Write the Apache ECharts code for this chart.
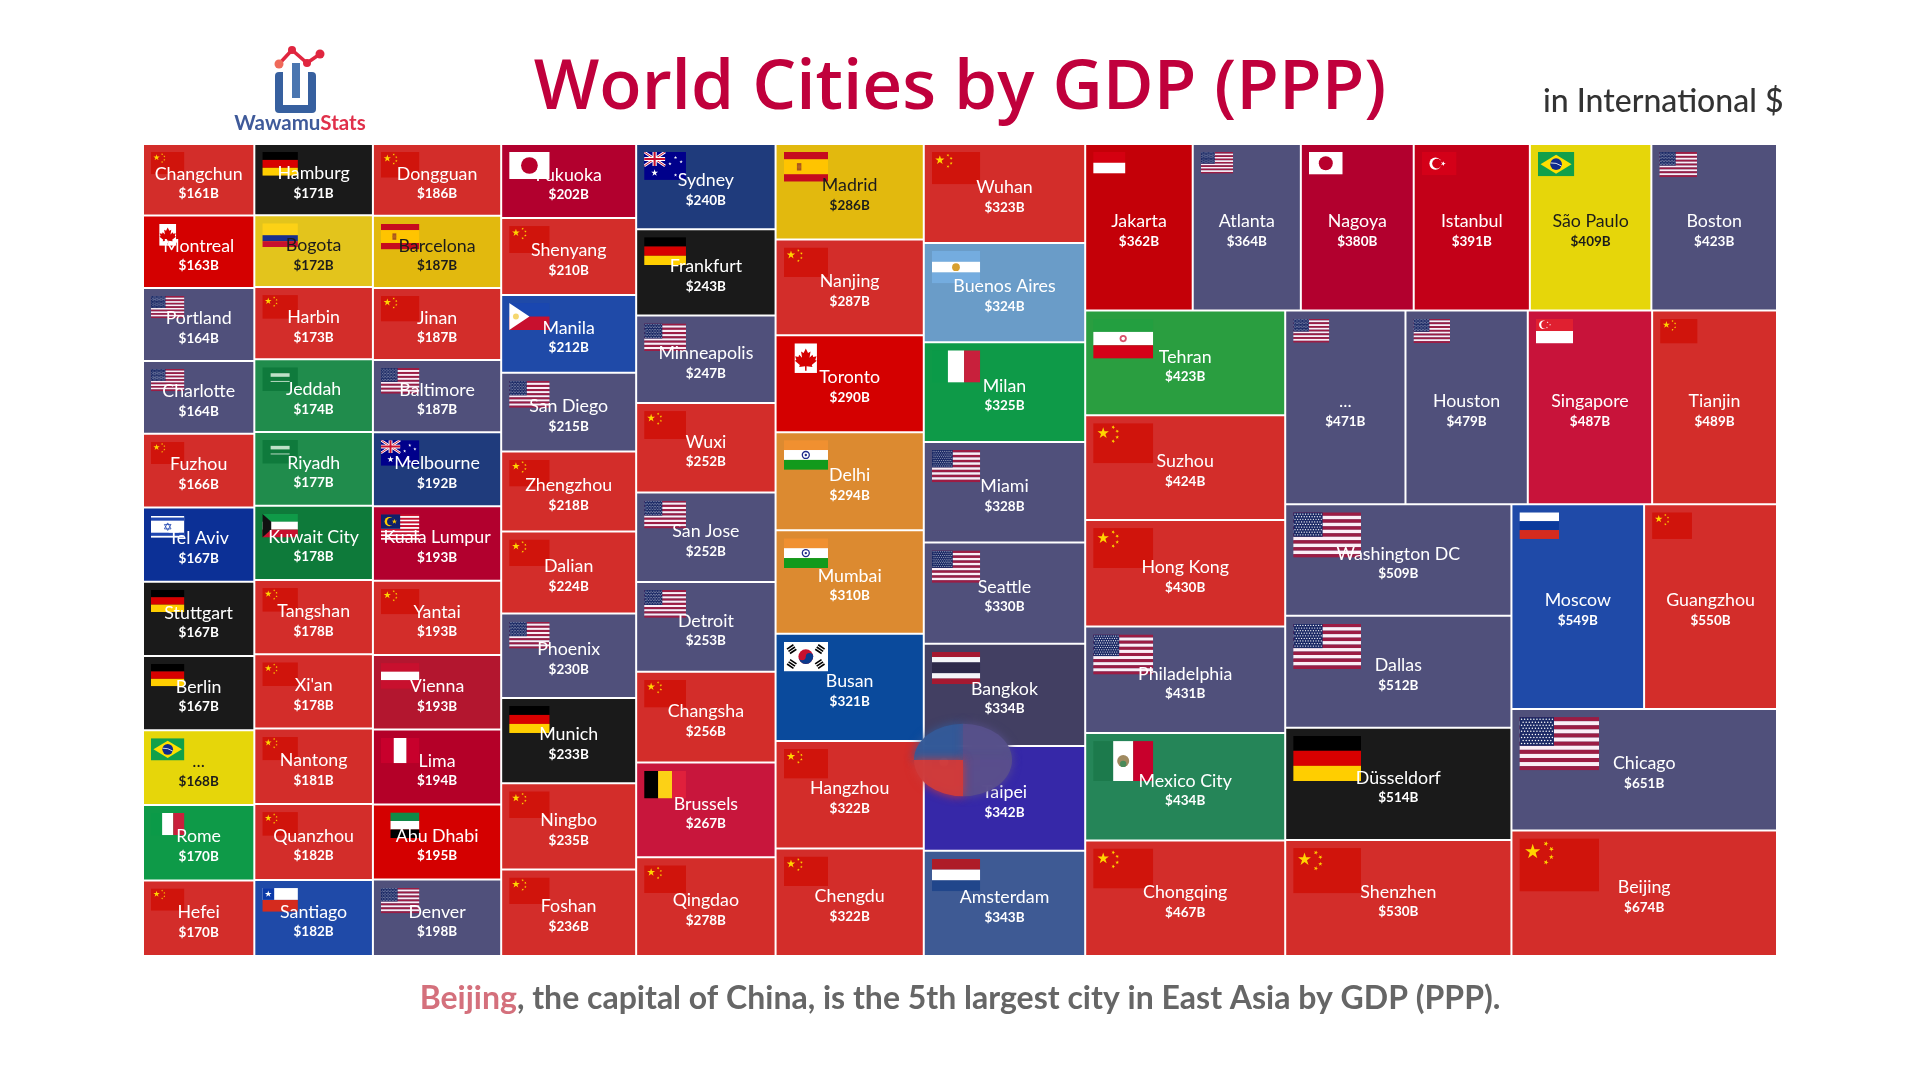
<!DOCTYPE html>
<html><head><meta charset="utf-8">
<style>html,body{margin:0;padding:0;background:#fff}#c{width:1920px;height:1080px}</style>
<script src="https://cdn.jsdelivr.net/npm/echarts@6/dist/echarts.min.js"></script>
</head><body><div id="c"></div>
<script>
const cities = ["Changchun","Montreal","Portland","Charlotte","Fuzhou","Tel Aviv","Stuttgart","Berlin","...","Rome","Hefei",
"Hamburg","Bogota","Harbin","Jeddah","Riyadh","Kuwait City","Tangshan","Xi'an","Nantong","Quanzhou","Santiago",
"Dongguan","Barcelona","Jinan","Baltimore","Melbourne","Kuala Lumpur","Yantai","Vienna","Lima","Abu Dhabi","Denver",
"Fukuoka","Shenyang","Manila","San Diego","Zhengzhou","Dalian","Phoenix","Munich","Ningbo","Foshan",
"Sydney","Frankfurt","Minneapolis","Wuxi","San Jose","Detroit","Changsha","Brussels","Qingdao",
"Madrid","Nanjing","Toronto","Delhi","Mumbai","Busan","Hangzhou","Chengdu",
"Wuhan","Buenos Aires","Milan","Miami","Seattle","Bangkok","Taipei","Amsterdam",
"Jakarta","Atlanta","Nagoya","Istanbul","São Paulo","Boston",
"Tehran","Suzhou","Hong Kong","Philadelphia","Mexico City","Chongqing",
"...","Houston","Singapore","Tianjin",
"Washington DC","Dallas","Düsseldorf","Shenzhen",
"Moscow","Guangzhou","Chicago","Beijing"];
const gdp = [161,163,164,164,166,167,167,167,168,170,170,
171,172,173,174,177,178,178,178,181,182,182,
186,187,187,187,192,193,193,193,194,195,198,
202,210,212,215,218,224,230,233,235,236,
240,243,247,252,252,253,256,267,278,
286,287,290,294,310,321,322,322,
323,324,325,328,330,334,342,343,
362,364,380,391,409,423,
423,424,430,431,434,467,
471,479,487,489,
509,512,514,530,
549,550,651,674];
const countries = ["CN","CA","US","US","CN","IL","DE","DE","BR","IT","CN",
"DE","CO","CN","SA","SA","KW","CN","CN","CN","CN","CL",
"CN","ES","CN","US","AU","MY","CN","AT","PE","AE","US",
"JP","CN","PH","US","CN","CN","US","DE","CN","CN",
"AU","DE","US","CN","US","US","CN","BE","CN",
"ES","CN","CA","IN","IN","KR","CN","CN",
"CN","AR","IT","US","US","TH","TW","NL",
"ID","US","JP","TR","BR","US",
"IR","CN","CN","US","MX","CN",
"US","US","SG","CN",
"US","US","DE","CN",
"RU","CN","US","CN"];
const countryColor = {CN:"#d32d2a",US:"#50507b",DE:"#1a1a1a",CA:"#d40000",IL:"#0c3096",BR:"#e6d60a",IT:"#0e9a48",
CO:"#e3c41c",SA:"#208c4c",KW:"#0e7a3a",CL:"#1f4aa8",ES:"#e2b90e",AU:"#1f3b7c",MY:"#b2002e",AT:"#b3162f",PE:"#b40028",AE:"#d40000",
JP:"#b2002e",PH:"#1f4aa8",BE:"#c8163c",IN:"#dc8a30",KR:"#0a4a9c",AR:"#6a9cc8",TH:"#423f62",TW:"#3628a8",NL:"#3e5a94",
ID:"#c40008",TR:"#c30018",IR:"#2a9e40",MX:"#258558",SG:"#c8133a",RU:"#1f4aa8"};
const darkText = ["CO","ES","BR"];
const treemapBox = {left:143, top:144, width:1634, height:812};
const titleText = "World Cities by GDP (PPP)";
const unitText = "in International $";
const captionCity = "Beijing";
const captionRest = ", the capital of China, is the 5th largest city in East Asia by GDP (PPP).";
const fontFamily = "Lato, 'Open Sans', sans-serif";
const titleFont = "'Open Sans', Lato, sans-serif";

// ---- flags (drawn on a 300x200 box) ----
const r=(x,y,w,h,f)=>`<rect x="${x}" y="${y}" width="${w}" height="${h}" fill="${f}"/>`;
const c=(x,y,rad,f)=>`<circle cx="${x}" cy="${y}" r="${rad}" fill="${f}"/>`;
const star=(x,y,R,f,rot=0)=>{let p=[];for(let i=0;i<10;i++){const a=(rot-90+i*36)*Math.PI/180,q=i%2?R*0.382:R;p.push((x+q*Math.cos(a)).toFixed(1)+","+(y+q*Math.sin(a)).toFixed(1));}return `<polygon points="${p.join(" ")}" fill="${f}"/>`;};
const hs=(cols)=>cols.map((k,i)=>r(0,i*200/cols.length,300,200/cols.length+.5,k)).join("");
const vs=(cols)=>cols.map((k,i)=>r(i*300/cols.length,0,300/cols.length+.5,200,k)).join("");
const usFlag=()=>{let s="";for(let i=0;i<13;i++)s+=r(0,i*200/13,300,200/13+.3,i%2?"#fbeef6":"#9c1c44");s+=r(0,0,130,108,"#1c2a66");
 for(let y=0;y<9;y++)for(let x=0;x<(y%2?10:11);x++)s+=c(8+x*11.6+(y%2?5.8:0),8+y*11.4,2.8,"#fff");return s;};
const flagArt = {
 CN:()=>r(0,0,300,200,"#d0140c")+star(50,50,30,"#ffd400")+star(100,20,10,"#ffd400",20)+star(120,40,10,"#ffd400",40)+star(120,70,10,"#ffd400",0)+star(100,90,10,"#ffd400",20),
 US:usFlag,
 DE:()=>hs(["#000","#d80000","#ffce00"]),
 CA:()=>r(0,0,75,200,"#d40000")+r(225,0,75,200,"#d40000")+r(75,0,150,200,"#fff")+'<path d="M150 35 L165 65 L182 56 L175 98 L195 78 L200 92 L222 88 L214 112 L224 118 L190 146 L195 160 L155 155 L155 185 L145 185 L145 155 L105 160 L110 146 L76 118 L86 112 L78 88 L100 92 L105 78 L125 98 L118 56 L135 65 Z" fill="#d40000"/>',
 CO:()=>r(0,0,300,100,"#fcd116")+r(0,100,300,50,"#1a2f8c")+r(0,150,300,50,"#c8102e"),
 ES:()=>r(0,0,300,50,"#c60b1e")+r(0,50,300,100,"#ffc400")+r(0,150,300,50,"#c60b1e")+r(90,75,30,50,"#a8551e")+c(105,100,13,"#b5651d"),
 SA:()=>r(0,0,300,200,"#0f7a3c")+r(70,50,160,30,"#bfe0c8")+r(70,115,160,7,"#d8ecdc"),
 JP:()=>r(0,0,300,200,"#fff")+c(150,100,62,"#b8002c"),
 PH:()=>r(0,0,300,100,"#1a47b0")+r(0,100,300,100,"#c8102e")+'<polygon points="0,0 150,100 0,200" fill="#fff"/>'+c(50,100,22,"#f5d76e"),
 AU:()=>r(0,0,300,200,"#00008b")+r(0,0,150,100,"#00008b")+'<path d="M0 0L150 100M150 0L0 100" stroke="#fff" stroke-width="20"/><path d="M0 0L150 100M150 0L0 100" stroke="#c8102e" stroke-width="7"/><path d="M75 0V100M0 50H150" stroke="#fff" stroke-width="30"/><path d="M75 0V100M0 50H150" stroke="#c8102e" stroke-width="15"/>'+star(75,150,26,"#fff")+star(225,40,13,"#fff")+star(225,165,13,"#fff")+star(185,85,13,"#fff")+star(265,70,13,"#fff"),
 IL:()=>r(0,0,300,200,"#fff")+r(0,18,300,28,"#1f46b0")+r(0,154,300,28,"#1f46b0")+'<path d="M150 66L180 120H120ZM150 134L120 80H180Z" fill="none" stroke="#1f46b0" stroke-width="7"/>',
 KW:()=>hs(["#0f9a48","#fff","#c8102e"])+'<polygon points="0,0 75,67 75,133 0,200" fill="#111"/>',
 MY:()=>{let s="";for(let i=0;i<14;i++)s+=r(0,i*200/14,300,200/14+.3,i%2?"#fff":"#c8102e");return s+r(0,0,150,114,"#10206a")+c(65,57,36,"#ffcc00")+c(78,57,30,"#10206a")+star(105,57,22,"#ffcc00");},
 AT:()=>hs(["#c8102e","#fff","#c8102e"]),
 BR:()=>r(0,0,300,200,"#11a04a")+'<polygon points="150,22 278,100 150,178 22,100" fill="#fedf00"/>'+c(150,100,48,"#102a8c")+'<path d="M105 90Q150 85 195 115" stroke="#fff" stroke-width="7" fill="none"/>',
 PE:()=>vs(["#c8002c","#fff","#c8002c"]),
 IT:()=>vs(["#0b9a48","#fff","#c8203c"]),
 AE:()=>r(0,0,75,200,"#d40000")+r(75,0,225,67,"#0f8a48")+r(75,67,225,67,"#fff")+r(75,133,225,67,"#000"),
 CL:()=>r(0,0,300,100,"#fff")+r(0,100,300,100,"#d52b1e")+r(0,0,100,100,"#0b39a8")+star(50,50,30,"#fff"),
 BE:()=>vs(["#000","#fcd116","#e0203c"]),
 AR:()=>hs(["#74acdf","#fff","#74acdf"])+c(150,100,24,"#d8a030"),
 IN:()=>hs(["#f09030","#fff","#129a1c"])+c(150,100,28,"#1f2c8c")+c(150,100,19,"#fff")+c(150,100,8,"#1f2c8c"),
 KR:()=>{let s=r(0,0,300,200,"#fff")+c(150,100,50,"#c8102e")+'<path d="M100 100A50 50 0 0 0 200 100A25 25 0 0 0 150 100A25 25 0 0 1 100 100Z" fill="#0a3a8c"/>';
   [[55,50,-34],[245,50,34],[55,150,34],[245,150,-34]].forEach(t=>{s+=`<g transform="translate(${t[0]} ${t[1]}) rotate(${t[2]})"><rect x="-26" y="-24" width="52" height="11"/><rect x="-26" y="-6" width="52" height="11"/><rect x="-26" y="12" width="52" height="11"/></g>`;});return s;},
 TH:()=>hs(["#a51931","#f4f5f8","#2d2a4a","#2d2a4a","#f4f5f8","#a51931"]),
 TW:()=>r(0,0,300,200,"#d00020")+r(0,0,150,100,"#000095")+c(75,50,28,"#fff"),
 NL:()=>hs(["#ae1c28","#fff","#21468b"]),
 ID:()=>hs(["#d40010","#fff"]),
 TR:()=>r(0,0,300,200,"#d40018")+c(118,100,52,"#fff")+c(132,100,42,"#d40018")+star(185,100,22,"#fff",90),
 IR:()=>hs(["#239f40","#fff","#d40018"])+c(150,100,18,"#d8506a")+c(150,100,9,"#fff"),
 MX:()=>vs(["#1c7a4c","#fff","#c8002c"])+c(150,100,30,"#a08a60")+c(150,114,16,"#4a8a5a"),
 SG:()=>r(0,0,300,100,"#e02030")+r(0,100,300,100,"#fff")+c(60,50,34,"#fff")+c(76,50,32,"#e02030")+star(95,30,8,"#fff")+star(115,50,8,"#fff")+star(90,72,8,"#fff"),
 RU:()=>hs(["#fff","#0b3a9c","#d52b1e"])
};
const flagUrl = code => "data:image/svg+xml;charset=utf-8," + encodeURIComponent(
 `<svg xmlns="http://www.w3.org/2000/svg" width="600" height="400" viewBox="0 0 300 200">${flagArt[code]()}</svg>`);

const leafLabel = {show:true, position:"inside", padding:0, overflow:"none", fontFamily,
  formatter:p=>`{n|${p.name}}\n{v|$${p.value}B}`,
  rich:{n:{fontSize:17.8, lineHeight:20, fontFamily, align:"center"},
        v:{fontSize:13.5, lineHeight:20, fontWeight:700, fontFamily, align:"center"}}};

const colorData = cities.map((name,i)=>({name, value:gdp[i], itemStyle:{color:countryColor[countries[i]]}}));
const common = {type:"treemap", ...treemapBox, roam:false, nodeClick:false, silent:true, animation:false,
  breadcrumb:{show:false}, sort:"asc", visibleMin:0};
const rootLevel = {itemStyle:{borderWidth:0,gapWidth:0,borderColor:"rgba(0,0,0,0)"}};

// logo
const logoParts = [
  {type:"rect", shape:{x:275,y:72,width:41,height:41,r:4}, style:{fill:"#37609f"}, z:1},
  {type:"rect", shape:{x:283,y:72,width:25,height:33}, style:{fill:"#fff"}, z:1},
  {type:"rect", shape:{x:292,y:63,width:8,height:35}, style:{fill:"#4a76b0"}, z:1},
  {type:"polyline", shape:{points:[[279,64],[292,50],[307,63],[320,54]]}, style:{stroke:"#e0263f",lineWidth:3.5,fill:null}, z:1},
  {type:"circle", shape:{cx:279,cy:64,r:4.5}, style:{fill:"#ef6a5a"}, z:1},
  {type:"circle", shape:{cx:292,cy:50,r:4}, style:{fill:"#e0263f"}, z:1},
  {type:"circle", shape:{cx:307,cy:63,r:4}, style:{fill:"#e0263f"}, z:1},
  {type:"circle", shape:{cx:320,cy:54,r:4.5}, style:{fill:"#e0263f"}, z:1},
  {type:"text", x:300, y:123, z:1, style:{text:"{a|Wawamu}{b|Stats}", align:"center", verticalAlign:"middle",
    rich:{a:{fontFamily,fontWeight:700,fontSize:20.5,color:"#3f5a9a",fill:"#3f5a9a"},b:{fontFamily,fontWeight:700,fontSize:20.5,color:"#e0304a",fill:"#e0304a"}}}}
];
// transition blob over Taipei
const blobPos=[963,760], blobR=49, blobFlat=0.74;
const blobParts=[[180,270,"#345a98"],[270,360,"#56508a"],[0,90,"#5a4e8c"],[90,180,"#cf3b3b"]].map(q=>({
  type:"sector", z:5, x:blobPos[0], y:blobPos[1], scaleY:blobFlat,
  shape:{cx:0,cy:0,r:blobR,startAngle:q[0]*Math.PI/180,endAngle:q[1]*Math.PI/180},
  style:{fill:q[2],opacity:0.95,shadowBlur:10,shadowColor:q[2]}}));

const chart = echarts.init(document.getElementById("c"),null,{renderer:"canvas"});
const baseSeries = {...common, z:1, label:{show:false}, levels:[rootLevel,{itemStyle:{borderWidth:1,borderColor:"rgba(255,255,255,0.55)"}}], data:colorData};
chart.setOption({
  backgroundColor:"#ffffff", animation:false,
  title:[
    {text:titleText,left:"center",top:41,textStyle:{fontFamily:titleFont,fontWeight:600,fontSize:69.4,color:"#c0003c",lineHeight:86}},
    {text:unitText,left:1538,top:79,textStyle:{fontFamily,fontWeight:500,fontSize:32,color:"#333",lineHeight:36}},
    {text:`{c|${captionCity}}{r|${captionRest}}`,left:"center",top:978,textStyle:{rich:{
       c:{fontFamily,fontSize:32,fontWeight:700,color:"#d4707c"},r:{fontFamily,fontSize:32,fontWeight:700,color:"#666"}}}}
  ],
  series:[baseSeries]
});
// flags and label offsets follow the layout the library computed
const leaves = chart.getModel().getSeriesByIndex(0).getData().tree.root.children;
const layoutOf = (name,value)=>leaves.find(n=>n.name===name && n.getValue()===value).getLayout();
const flagEls = cities.map((name,i)=>{
  const l=layoutOf(name,gdp[i]);
  const w=l.width*0.3, h=w*2/3;
  return {type:"image", z:2, x:treemapBox.left+l.x+8, y:treemapBox.top+l.y+8,
    style:{image:flagUrl(countries[i]), x:0,y:0,width:w,height:h}};
});
const textData = cities.map((name,i)=>{
  const col = darkText.includes(countries[i]) ? "#1c1c1c" : "#ffffff";
  const l=layoutOf(name,gdp[i]);
  return {name, value:gdp[i], itemStyle:{color:"rgba(0,0,0,0)",borderColor:"rgba(0,0,0,0)"},
    label:{...leafLabel, offset:[0,l.height/2-17], color:col, rich:{n:{...leafLabel.rich.n,color:col}, v:{...leafLabel.rich.v,color:col}}}};
});
chart.setOption({
  graphic:{elements:[...logoParts,...flagEls,...blobParts]},
  series:[baseSeries,{...common, z:4, label:leafLabel, levels:[rootLevel,{itemStyle:{borderWidth:1,borderColor:"rgba(0,0,0,0)"}}], data:textData}]
});
</script></body></html>
